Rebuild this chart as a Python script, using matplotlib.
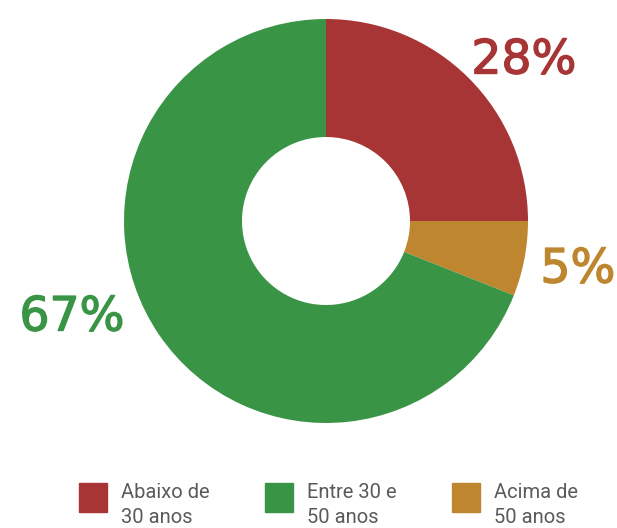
import matplotlib
matplotlib.use("Agg")
import matplotlib.pyplot as plt
import matplotlib.patheffects as pe
from matplotlib.patches import Rectangle

categories = ["Abaixo de\n30 anos", "Entre 30 e\n50 anos", "Acima de\n50 anos"]
values = [25, 69, 6]
pct_labels = ["28%", "67%", "5%"]
colors = ["#A83536", "#3A9446", "#BF8630"]

W, H = 617, 528
fig = plt.figure(figsize=(W / 100, H / 100), dpi=100)

cx, cy, R = 326, 221, 202
ax = fig.add_axes([(cx - R) / W, (H - cy - R) / H, 2 * R / W, 2 * R / H])
# clockwise from top: red, gold, green
order = [0, 2, 1]
ax.pie([values[i] for i in order], colors=[colors[i] for i in order],
       startangle=90, counterclock=False,
       wedgeprops=dict(width=1 - 84 / 202, edgecolor="none"), radius=1)
ax.set_xlim(-1, 1)
ax.set_ylim(-1, 1)
ax.set_aspect("equal")
ax.axis("off")

pct_pos = [(524, 61), (72, 318), (578, 270)]
for lab, (px, py), c in zip(pct_labels, pct_pos, colors):
    fig.text(px / W, 1 - py / H, lab, color=c, fontsize=34, fontweight="normal",
             family="DejaVu Sans", ha="center", va="center",
             path_effects=[pe.withStroke(linewidth=1.0, foreground=c)])

sq_x = [79, 265, 452]
for cat, x, c in zip(categories, sq_x, colors):
    fig.patches.append(Rectangle((x / W, 1 - 512 / H), 28 / W, 29 / H,
                                 transform=fig.transFigure, color=c))
    fig.text((x + 42) / W, 1 - 483 / H, cat, color="#5a5a5a", fontsize=14.5,
             family="Roboto", fontweight="normal", ha="left", va="top",
             linespacing=1.38)

fig.savefig("out.png", dpi=100)
